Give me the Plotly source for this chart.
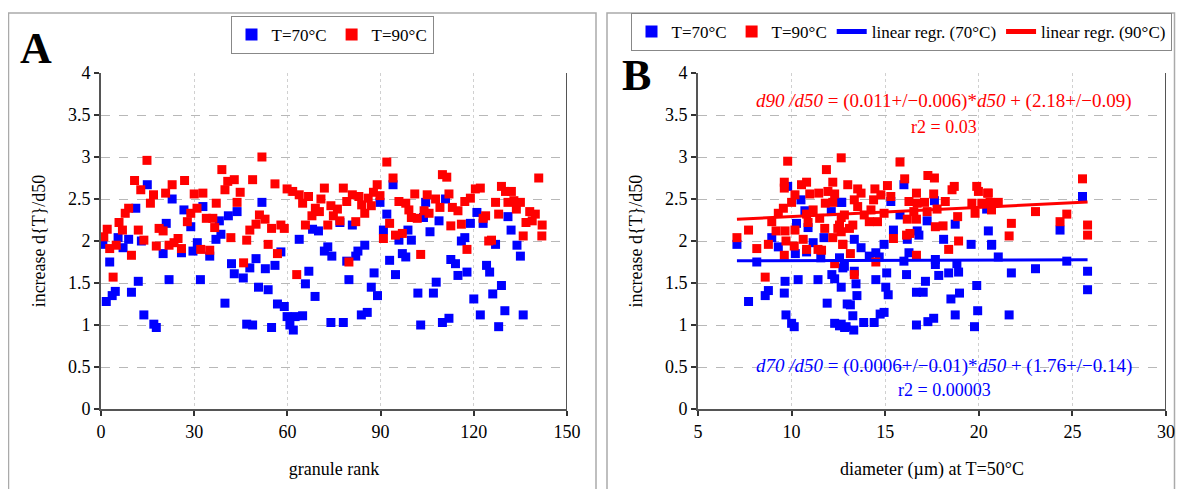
import plotly.graph_objects as go

# ---------------- Panel A data (granule rank vs increase) ----------------
a70_rank = [14.9,11.2,22.9,26.7,32.8,21,28.9,0.6,5.5,8.9,7.1,13,20,25.9,29.6,31,35,2.8,12,21.9,32,4.6,3.6,1.7,9.8,13.8,17,17.8,
            51.8,41,43.8,38.1,38.6,37,63.8,68.1,70,73,71.9,74.3,57.9,49.9,42,47.9,52.9,56,42.9,45.8,66.9,65.8,68.9,50.7,53.8,39.9,56.8,59,59.9,62.5,64.9,46.9,48.8,54.9,60.8,61.9,74,
            94,89.8,104.5,110.9,103.8,92,80.9,76.9,90.9,98.8,95.9,99.9,105.9,108.8,84.9,82.7,82,79.1,92.9,97,98.1,112.6,87.9,94.8,79.8,87,89,107.9,102,107,85.7,83.8,78,102.9,109.9,112,
            121,118.9,123,131,132,117.1,116,127,133.9,135,114.1,124.1,125.1,117.8,114.9,128.9,126.1,120,122.1,130,135.9,128]
a70_val = [2.67,2.39,2.5,2.37,2.41,2.21,2.17,1.96,2.04,2.02,1.92,2.0,1.85,1.86,1.88,1.98,1.82,1.75,1.52,1.54,1.54,1.4,1.35,1.28,1.39,1.12,1.01,0.97,
           2.46,2.3,2.35,2.24,2.08,2.02,2.02,2.14,2.12,1.93,1.88,1.82,1.87,1.79,1.73,1.68,1.67,1.71,1.61,1.56,1.64,1.49,1.34,1.45,1.42,1.26,1.25,1.22,1.1,1.1,1.11,1.01,1.0,0.97,1.0,0.94,1.03,
           2.67,2.46,2.46,2.5,2.28,2.32,2.19,2.22,2.13,2.13,2.01,2.01,2.11,2.24,1.95,1.88,1.82,1.76,1.77,1.85,1.81,1.78,1.62,1.6,1.54,1.45,1.35,1.51,1.38,1.38,1.15,1.12,1.03,1.0,1.03,1.08,
           2.34,2.21,2.21,2.29,2.13,2.04,2.0,1.96,1.95,1.82,1.73,1.71,1.63,1.63,1.59,1.47,1.37,1.31,1.12,1.17,1.12,0.98]

a90_rank = [14.8,10.8,12.8,16.9,15.9,22.9,20.8,26.9,30,32.8,37.1,8.9,7.8,5.8,2,0.9,6.9,12,13.8,18.7,20,2.8,4.9,9.8,17.8,21.9,24.8,23.5,25.9,30.9,28.9,27.8,32.1,35,33.9,36,36.6,3.9,
            51.8,38.9,40.8,42.9,39.9,44.8,48.8,56,59.9,61.7,63.8,66.8,64.9,71.9,70.8,74,69,70.3,67.9,74.8,43.8,51,52.8,49.9,47.9,54.9,57.9,59,65.8,73,41.8,46.9,53.8,56.8,45.9,63,
            92,94,88.9,78,80.9,83,86,87.7,89.8,79.1,83.9,87,84.9,76.1,76.9,82,95.9,98.1,99.1,101,99.9,101.8,104,105.6,105,107.7,109.1,109.9,111.3,112,113.1,112.6,92.9,94.8,97,90.9,102.9,79.8,
            140.9,128.9,120.5,122.1,130.2,132.1,127,131,132.9,135,133.7,118.9,117.1,114.9,128,123.8,123,138,139.8,138.8,136.8,142,116,135.9,141.9,125.7,124.8,117.8]
a90_val = [2.96,2.72,2.61,2.55,2.45,2.67,2.57,2.72,2.56,2.57,2.45,2.39,2.33,2.22,2.14,2.05,2.13,2.13,2.01,2.15,2.12,1.91,1.95,1.83,1.94,1.95,2.03,1.98,1.91,2.39,2.33,2.23,1.9,1.89,2.27,2.27,2.16,1.57,
           3.0,2.85,2.71,2.73,2.61,2.58,2.73,2.68,2.62,2.59,2.55,2.53,2.45,2.63,2.5,2.42,2.39,2.35,2.3,2.3,2.46,2.31,2.26,2.2,2.13,2.15,2.19,2.15,2.19,2.19,2.04,2.01,1.96,1.85,1.74,1.6,
           2.94,2.75,2.67,2.63,2.55,2.53,2.51,2.58,2.54,2.47,2.43,2.42,2.33,2.38,2.24,2.23,2.47,2.45,2.37,2.56,2.28,2.27,2.36,2.33,2.55,2.5,2.4,2.79,2.76,2.56,2.4,2.18,2.21,2.07,2.09,2.03,1.84,1.75,
           2.75,2.65,2.62,2.63,2.59,2.59,2.46,2.46,2.48,2.46,2.38,2.51,2.47,2.36,2.32,2.3,2.27,2.35,2.32,2.24,2.22,2.19,2.2,2.06,2.06,2.01,2.0,1.9]

# ---------------- Panel B data (diameter vs increase) ----------------
b70_d = [9.79,10.5,12.65,10.71,12.12,10.26,10.88,11.73,8.94,9.29,7.08,11.15,10.2,10.8,11.56,8.14,12.56,12.74,12.15,12.3,10.35,11.41,9.65,8.76,8.59,9.61,7.7,11.9,9.7,10.0,10.14,12.3,12.56,12.83,12.97,
         16.0,12.68,15.3,17.63,20.42,15.79,17.24,18.74,15.44,16.71,16.8,16.18,18.12,13.35,14.94,13.71,14.5,16.27,19.59,20.51,20.69,14.15,14.68,16.0,17.68,17.68,18.83,18.92,12.82,13.35,15.08,16.14,17.86,18.39,14.5,17.15,12.65,13.44,15.03,15.16,16.67,17.03,18.97,18.51,19.89,13.49,13.14,14.94,14.73,13.27,18.74,19.94,17.59,17.28,16.67,13.85,14.41,12.65,12.91,13.32,19.77,
         25.54,20.68,21.04,24.7,23.03,21.74,25.81,25.81,21.62,24.34]
b70_val = [2.65,2.49,2.46,2.36,2.35,2.21,2.16,2.04,2.04,1.93,1.96,1.98,1.85,1.87,1.8,1.75,1.8,1.68,1.6,1.55,1.54,1.54,1.52,1.41,1.35,1.38,1.28,1.26,1.12,1.02,0.98,1.02,0.99,0.97,1.25,
           2.67,2.46,2.47,2.48,2.38,2.31,2.24,2.2,2.13,2.12,2.07,2.02,2.02,2.02,1.96,1.92,1.86,1.86,1.96,2.12,1.96,1.82,1.81,1.76,1.78,1.72,1.73,1.63,1.7,1.64,1.62,1.6,1.59,1.62,1.54,1.52,1.45,1.49,1.45,1.36,1.39,1.39,1.38,1.31,1.47,1.35,1.24,1.15,1.13,1.11,1.12,1.17,1.08,1.04,1.0,1.03,1.03,1.01,0.98,0.94,0.98,
           2.53,1.95,1.81,1.76,1.67,1.62,1.64,1.42,1.12,2.13]

b90_d = [9.79,12.65,11.86,9.61,9.61,10.53,10.8,10.18,10.97,11.45,11.94,12.2,12.3,10.0,9.56,9.29,11.15,10.8,11.8,12.2,11.5,12.65,8.94,10.88,11.77,12.47,10.18,9.17,9.65,7.7,7.08,10.62,9.7,8.76,8.14,10.14,10.8,11.41,11.6,12.2,12.74,9.61,12.3,8.59,
         15.79,16.04,17.28,17.63,19.89,19.98,20.47,13.0,13.53,13.71,14.45,15.12,15.3,14.77,14.38,13.35,13.53,16.67,17.59,18.57,18.69,16.27,16.71,17.1,18.21,19.63,20.16,20.6,17.77,17.24,12.82,13.88,14.24,14.94,16.53,19.8,12.56,13.27,14.15,14.59,16.18,16.67,18.87,18.09,17.68,12.65,13.09,16.14,16.32,15.44,18.92,18.39,12.73,13.14,16.67,14.5,13.35,
         25.54,20.51,21.04,20.68,23.03,24.7,24.34,21.74,25.81,21.62,25.81]
b90_val = [2.95,2.99,2.85,2.7,2.63,2.67,2.7,2.55,2.56,2.57,2.59,2.7,2.56,2.46,2.39,2.33,2.37,2.32,2.45,2.46,2.27,2.28,2.23,2.22,2.15,2.15,2.13,2.12,2.12,2.13,2.04,2.02,2.0,1.96,1.91,1.94,1.9,1.9,1.89,2.04,1.96,1.83,1.73,1.57,
           2.94,2.74,2.78,2.75,2.65,2.59,2.57,2.67,2.62,2.57,2.62,2.66,2.53,2.55,2.49,2.49,2.41,2.57,2.56,2.61,2.65,2.47,2.45,2.46,2.47,2.45,2.45,2.46,2.38,2.35,2.31,2.31,2.37,2.33,2.35,2.33,2.19,2.19,2.23,2.23,2.26,2.26,2.29,2.18,2.17,2.11,2.15,2.07,2.09,2.03,2.0,1.9,1.96,1.85,1.83,1.75,1.6,
           2.74,2.57,2.46,2.37,2.35,2.32,2.23,2.21,2.19,2.06,2.07]

# linear regression coefficients (as printed on the chart)
slope70, icpt70 = 0.0006, 1.76
slope90, icpt90 = 0.011, 2.18

A_xticks = [0, 30, 60, 90, 120, 150]
B_xticks = [5, 10, 15, 20, 25, 30]
y_ticks = [0, 0.5, 1, 1.5, 2, 2.5, 3, 3.5, 4]
y_ticktext = ["0", "0.5", "1", "1.5", "2", "2.5", "3", "3.5", "4"]

BLUE = "#0000FF"
RED = "#FF0000"
FONT = "Liberation Serif"
# the page body has an 8px margin; keep the figure short enough to avoid a vertical scrollbar
OFF = 8
W, H = 1184 - OFF, 497 - 2 * OFF

def px(x):
    return (x - OFF) / W

def py(y):
    return 1 - (y - OFF) / H

fig = go.Figure()

mk = dict(symbol="square", size=9)
fig.add_trace(go.Scatter(x=a70_rank, y=a70_val, mode="markers", name="T=70°C",
                         marker=dict(color=BLUE, **mk), xaxis="x", yaxis="y", legend="legend"))
fig.add_trace(go.Scatter(x=a90_rank, y=a90_val, mode="markers", name="T=90°C",
                         marker=dict(color=RED, **mk), xaxis="x", yaxis="y", legend="legend"))

fig.add_trace(go.Scatter(x=b70_d, y=b70_val, mode="markers", name="T=70°C",
                         marker=dict(color=BLUE, **mk), xaxis="x2", yaxis="y2", legend="legend2"))
fig.add_trace(go.Scatter(x=b90_d, y=b90_val, mode="markers", name="T=90°C",
                         marker=dict(color=RED, **mk), xaxis="x2", yaxis="y2", legend="legend2"))

x70 = [min(b70_d), max(b70_d)]
x90 = [min(b90_d), max(b90_d)]
fig.add_trace(go.Scatter(x=x70, y=[slope70 * v + icpt70 for v in x70], mode="lines",
                         name="linear regr. (70°C)", line=dict(color=BLUE, width=3),
                         xaxis="x2", yaxis="y2", legend="legend2"))
fig.add_trace(go.Scatter(x=x90, y=[slope90 * v + icpt90 for v in x90], mode="lines",
                         name="linear regr. (90°C)", line=dict(color=RED, width=3),
                         xaxis="x2", yaxis="y2", legend="legend2"))

axis_common = dict(showline=True, linecolor="#555555", linewidth=2, mirror=False,
                   ticks="outside", ticklen=5, tickcolor="#333333", tickwidth=1.5,
                   tickfont=dict(family=FONT, size=18, color="black"), zeroline=False,
                   automargin=False)

yA_dom = [py(409), py(73)]
fig.update_layout(
    width=W, height=H,
    margin=dict(l=0, r=0, t=0, b=0, autoexpand=False),
    paper_bgcolor="white", plot_bgcolor="white",
    font=dict(family=FONT, color="black"),
    xaxis=dict(domain=[px(101), px(567)], range=[0, 150], tickvals=A_xticks,
               showgrid=True, gridcolor="#d0d0d0", griddash="dot", gridwidth=1,
               title=dict(text="granule rank", font=dict(family=FONT, size=18), standoff=22),
               anchor="y", **axis_common),
    yaxis=dict(domain=yA_dom, range=[0, 4], tickvals=y_ticks, ticktext=y_ticktext,
               showgrid=True, gridcolor="#b8b8b8", griddash="dash", gridwidth=1,
               title=dict(text="increase d{T}/d50", font=dict(family=FONT, size=18), standoff=18),
               anchor="x", **axis_common),
    xaxis2=dict(domain=[px(698), px(1166)], range=[5, 30], tickvals=B_xticks,
                showgrid=True, gridcolor="#d0d0d0", griddash="dot", gridwidth=1,
                title=dict(text="diameter (µm) at T=50°C", font=dict(family=FONT, size=18), standoff=22),
                anchor="y2", **axis_common),
    yaxis2=dict(domain=yA_dom, range=[0, 4], tickvals=y_ticks, ticktext=y_ticktext,
                showgrid=True, gridcolor="#b8b8b8", griddash="dash", gridwidth=1,
                title=dict(text="increase d{T}/d50", font=dict(family=FONT, size=18), standoff=18),
                anchor="x2", **axis_common),
    legend=dict(orientation="h", x=px(332), xanchor="center", y=py(16), yanchor="top",
                bordercolor="#888888", borderwidth=1, bgcolor="white", itemwidth=30,
                font=dict(family=FONT, size=17), itemsizing="constant"),
    legend2=dict(orientation="h", x=px(901), xanchor="center", y=py(13), yanchor="top",
                 bordercolor="#888888", borderwidth=1, bgcolor="white", itemwidth=30,
                 font=dict(family=FONT, size=17), itemsizing="constant"),
    showlegend=True,
)

# panel frames (open at the bottom, as they run past the lower edge of the picture)
frame_line = dict(color="#aaaaaa", width=1.5)
for x0, x1 in [(8.5, 596), (607, 1174.5)]:
    fig.add_shape(type="path", xref="paper", yref="paper",
                  path=f"M {px(x0)},0 L {px(x0)},{py(13)} L {px(x1)},{py(13)} L {px(x1)},0",
                  line=frame_line, layer="below")
# right borders of plot areas
fig.add_shape(type="line", xref="x", yref="y", x0=150, x1=150, y0=0, y1=4,
              line=dict(color="#555555", width=2))
fig.add_shape(type="line", xref="x2", yref="y2", x0=30, x1=30, y0=0, y1=4,
              line=dict(color="#555555", width=2))

fig.add_annotation(text="<b>A</b>", xref="paper", yref="paper", x=px(36), y=py(48),
                   xanchor="center", yanchor="middle",
                   showarrow=False, font=dict(family=FONT, size=44, color="black"))
fig.add_annotation(text="<b>B</b>", xref="paper", yref="paper", x=px(636), y=py(75),
                   xanchor="center", yanchor="middle",
                   showarrow=False, font=dict(family=FONT, size=44, color="black"))

fig.add_annotation(text="<i>d90 /d50</i> = (0.011+/−0.006)*<i>d50</i> + (2.18+/−0.09)",
                   xref="paper", yref="paper", x=px(944), y=py(101), xanchor="center", yanchor="middle",
                   showarrow=False, font=dict(family=FONT, size=19, color=RED))
fig.add_annotation(text="r2 = 0.03", xref="paper", yref="paper", x=px(944), y=py(127),
                   xanchor="center", yanchor="middle",
                   showarrow=False, font=dict(family=FONT, size=18, color=RED))
fig.add_annotation(text="<i>d70 /d50</i> = (0.0006+/−0.01)*<i>d50</i> + (1.76+/−0.14)",
                   xref="paper", yref="paper", x=px(944), y=py(366), xanchor="center", yanchor="middle",
                   showarrow=False, font=dict(family=FONT, size=19, color=BLUE))
fig.add_annotation(text="r2 = 0.00003", xref="paper", yref="paper", x=px(944), y=py(390),
                   xanchor="center", yanchor="middle",
                   showarrow=False, font=dict(family=FONT, size=18, color=BLUE))

fig.write_html("out.html")
